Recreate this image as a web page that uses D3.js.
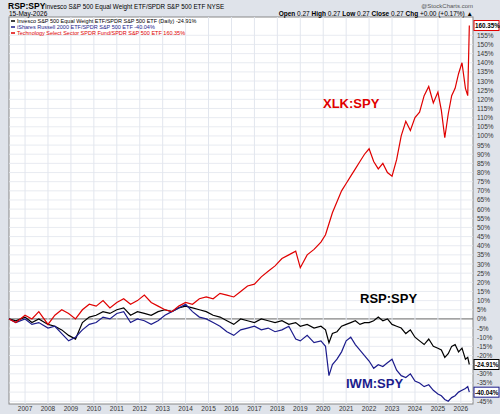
<!DOCTYPE html>
<html><head><meta charset="utf-8">
<script src="https://cdn.jsdelivr.net/npm/d3@7"></script>
<style>body{margin:0;background:#dfe3ea;font-family:"Liberation Sans",Arial,sans-serif}</style>
</head><body><svg id="c" width="500" height="414"></svg>
<script>
// years (decimal) and % relative change
const years = [2006.3,2006.6,2007.0,2007.3,2007.6,2008.0,2008.3,2008.6,2008.9,2009.2,2009.5,2009.8,2010.1,2010.4,2010.7,2011.0,2011.3,2011.6,2011.9,2012.2,2012.5,2012.8,2013.1,2013.4,2013.7,2014.0,2014.3,2014.6,2014.9,2015.2,2015.5,2015.8,2016.1,2016.4,2016.7,2017.0,2017.3,2017.6,2017.9,2018.2,2018.5,2018.8,2019.0,2019.3,2019.6,2019.9,2020.1,2020.25,2020.4,2020.6,2020.8,2021.0,2021.2,2021.4,2021.6,2021.8,2022.0,2022.2,2022.4,2022.6,2022.8,2023.0,2023.2,2023.4,2023.6,2023.8,2024.0,2024.2,2024.4,2024.6,2024.8,2025.0,2025.15,2025.3,2025.45,2025.6,2025.75,2025.9,2026.05,2026.2,2026.3,2026.37]
const xlk = [0,-2,2,0,4,-3,2,5,3,0,5,8,7,10,6,9,11,8,10,13,9,7,5,4,7,9,8,11,12,11,14,13,12,15,18,19,23,26,29,33,35,37,28,35,38,42,46,52,58,64,70,74,78,82,86,90,93,86,82,85,80,78,87,100,108,103,110,113,122,127,118,124,114,99,112,122,126,134,140,126,122,160.35]
const rsp = [0,-1,1,-2,0,-3,-4,-6,-9,-11,-2,1,2,4,3,5,6,2,4,3,2,4,5,4,6,7,6,5,4,2,1,-1,-3,0,-1,-2,0,-1,-2,-1,-3,-2,-4,-3,-5,-4,-6,-13,-8,-7,-4,-3,-2,-1,-3,-2,-2,-1,1,-1,0,-3,-4,-5,-8,-6,-10,-12,-14,-11,-15,-16,-17,-21,-19,-15,-14,-18,-16,-22,-21,-24.91]
const iwm = [0,-2,0,-3,-2,-5,-4,-8,-12,-10,-6,-3,-2,1,0,3,4,-2,0,-1,-3,-1,2,4,6,8,4,1,0,-2,-4,-7,-9,-6,-5,-4,-6,-5,-7,-6,-4,-11,-12,-9,-13,-12,-15,-31,-25,-22,-18,-12,-10,-14,-17,-20,-23,-27,-25,-26,-24,-22,-28,-31,-32,-30,-34,-35,-37,-36,-39,-41,-42,-44,-45,-43,-42,-40,-39,-38,-37,-40.04]
const lastVals = [160.35, -24.91, -40.04]
const yTicks = d3.range(-45, 160, 5)
const yearLabels = d3.range(2007, 2027)

const svg = d3.select('#c')
const L = 9, R = 473, T = 17, B = 404
const x = d3.scaleLinear().domain([2006.3, 2026.53]).range([L, R])
const y = d3.scaleLinear().domain([-46.5, 165]).range([B, T])

svg.append('rect').attr('x', L).attr('y', T).attr('width', R - L).attr('height', B - T).attr('fill', '#fff').attr('stroke', '#888')
const g = svg.append('g')
yTicks.forEach(t => g.append('line').attr('x1', L).attr('x2', R).attr('y1', y(t)).attr('y2', y(t))
    .attr('stroke', t === 0 ? '#666' : '#e2e6ee').attr('stroke-width', t === 0 ? 1 : 0.8))
yearLabels.forEach(yr => g.append('line').attr('y1', T).attr('y2', B).attr('x1', x(yr)).attr('x2', x(yr)).attr('stroke', '#e2e6ee'))
yTicks.filter(t => lastVals.every(v => Math.abs(y(t) - y(v)) > 7))
    .forEach(t => svg.append('text').attr('x', R + 4).attr('y', y(t) + 2.5).attr('font-size', 6.5).attr('fill', '#333').text(t + '%'))
yearLabels.forEach(yr => svg.append('text').attr('x', x(yr)).attr('y', 411).attr('text-anchor', 'middle').attr('font-size', 6.5).attr('fill', '#333').text(yr))

const line = d3.line().x((d, i) => x(years[i])).y(d => y(d))
const series = [[rsp, '#000'], [iwm, '#1c1c8c'], [xlk, '#e00000']]
series.forEach(([v, c]) => svg.append('path').datum(v).attr('d', line).attr('fill', 'none').attr('stroke', c).attr('stroke-width', 1.2))

const lab = (txt, yy, c) => {
    svg.append('rect').attr('x', R + 1).attr('y', y(yy) - 5).attr('width', 25).attr('height', 10).attr('fill', '#fff').attr('stroke', c)
    svg.append('text').attr('x', R + 2).attr('y', y(yy) + 2.5).attr('font-size', 6.3).attr('font-weight', 'bold').attr('fill', '#000').text(txt)
}
lab('160.35%', lastVals[0], '#e00000'); lab('-24.91%', lastVals[1], '#000'); lab('-40.04%', lastVals[2], '#1c1c8c')

svg.append('text').attr('x', 323).attr('y', 108).attr('font-size', 13).attr('font-weight', 'bold').attr('fill', '#e00000').text('XLK:SPY')
svg.append('text').attr('x', 360).attr('y', 303).attr('font-size', 13).attr('font-weight', 'bold').attr('fill', '#000').text('RSP:SPY')
svg.append('text').attr('x', 346).attr('y', 388).attr('font-size', 13).attr('font-weight', 'bold').attr('fill', '#1c1c8c').text('IWM:SPY')

svg.append('text').attr('x', 8).attr('y', 9).attr('font-size', 8.5).attr('font-weight', 'bold').text('RSP:SPY')
svg.append('text').attr('x', 45).attr('y', 9).attr('font-size', 6.3).text('Invesco S&P 500 Equal Weight ETF/SPDR S&P 500 ETF  NYSE')
svg.append('text').attr('x', 473).attr('y', 8).attr('text-anchor', 'end').attr('font-size', 6).attr('fill', '#555').text('@StockCharts.com')
svg.append('text').attr('x', 9).attr('y', 16).attr('font-size', 6.5).text('15-May-2026')
svg.append('text').attr('x', 473).attr('y', 16).attr('text-anchor', 'end').attr('font-size', 6.5)
    .html('<tspan font-weight="bold">Open</tspan> 0.27 <tspan font-weight="bold">High</tspan> 0.27 <tspan font-weight="bold">Low</tspan> 0.27 <tspan font-weight="bold">Close</tspan> 0.27 <tspan font-weight="bold">Chg</tspan> +0.00 (+0.17%) ▲')
const leg = [['Invesco S&P 500 Equal Weight ETF/SPDR S&P 500 ETF (Daily) -24.91%', '#000'], ['iShares Russell 2000 ETF/SPDR S&P 500 ETF -40.04%', '#1c1c8c'], ['Technology Select Sector SPDR Fund/SPDR S&P 500 ETF 160.35%', '#e00000']]
leg.forEach(([t, c], i) => {
    svg.append('line').attr('x1', 11).attr('x2', 15).attr('y1', 21 + i * 6).attr('y2', 21 + i * 6).attr('stroke', c).attr('stroke-width', 1.5)
    svg.append('text').attr('x', 17).attr('y', 23 + i * 6).attr('font-size', 5.5).attr('fill', c).text(t)
})
</script></body></html>
